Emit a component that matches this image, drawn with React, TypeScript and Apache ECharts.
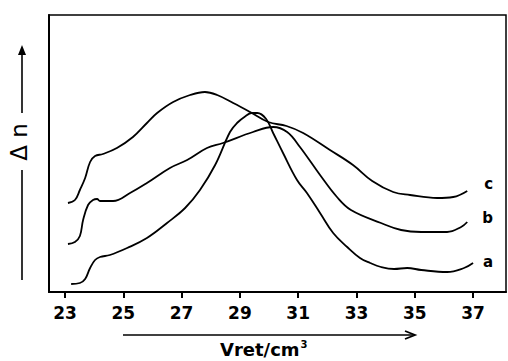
import React, { useEffect, useRef } from 'react';
import * as echarts from 'echarts';

const tickValues = [23, 25, 27, 29, 31, 33, 35, 37];
const seriesNames = ['a', 'b', 'c'];

const curveA: [number, number][] = [
  [23.21, 0.8], [23.51, 0.9], [23.69, 1.3], [23.86, 2.4], [24.03, 3.2], [24.2, 3.5],
  [24.54, 3.7], [25.13, 4.4], [25.81, 5.4], [26.5, 6.9], [27.12, 8.4], [27.63, 10.2],
  [28.15, 12.7], [28.66, 16.0], [28.9, 16.9], [29.2, 17.6], [29.4, 17.9], [29.6, 17.9],
  [29.9, 17.3], [30.14, 15.9], [30.48, 13.9], [30.96, 11.2], [31.3, 9.9], [31.75, 7.9],
  [32.2, 5.9], [32.68, 4.5], [33.12, 3.4], [33.47, 2.9], [33.84, 2.5], [34.29, 2.3],
  [34.74, 2.4], [35.22, 2.2], [36.11, 2.0], [36.69, 2.4], [37.0, 2.9],
];

const curveB: [number, number][] = [
  [23.1, 4.8], [23.34, 5.0], [23.51, 5.6], [23.62, 7.2], [23.79, 8.7], [23.96, 9.2],
  [24.1, 9.3], [24.2, 9.1], [24.65, 9.1], [25.23, 9.9], [25.81, 10.9], [26.6, 12.4],
  [27.19, 13.2], [27.87, 14.4], [28.42, 14.9], [29.45, 16.0], [30.14, 16.5], [30.62, 16.0],
  [31.06, 14.5], [31.75, 11.7], [32.33, 9.5], [32.81, 8.2], [33.84, 6.9], [34.53, 6.2],
  [35.22, 6.0], [36.11, 6.0], [36.59, 6.5], [36.8, 7.0],
];

const curveC: [number, number][] = [
  [23.1, 8.9], [23.34, 9.2], [23.51, 10.2], [23.69, 11.4], [23.86, 13.0], [24.03, 13.6],
  [24.3, 13.8], [24.78, 14.4], [25.33, 15.5], [25.81, 16.9], [26.16, 17.9], [26.71, 19.0],
  [27.29, 19.7], [27.8, 20.0], [28.22, 19.7], [28.77, 18.9], [29.35, 18.0], [29.97, 17.0],
  [30.6, 16.6], [31.17, 15.9], [32.09, 14.2], [32.88, 12.7], [33.54, 11.1], [34.26, 10.0],
  [34.84, 9.7], [35.77, 9.4], [36.32, 9.5], [36.8, 10.1],
];

const FONT = 'DejaVu Sans';

export default function App() {
  const ref = useRef<HTMLDivElement>(null);
  useEffect(() => {
    const chart = echarts.init(ref.current!, null, { renderer: 'svg' });
    const curves = [curveA, curveB, curveC];
    const offsets: [number, number][] = [[2, -1], [7, -4], [9, -7]];
    chart.setOption({
      animation: false,
      backgroundColor: '#fff',
      grid: {
        left: 49, right: 2, top: 15, bottom: 69,
        show: true, borderColor: '#000', borderWidth: 1.5, backgroundColor: 'transparent',
      },
      xAxis: {
        type: 'value',
        min: 22.45,
        max: 38.13,
        axisLine: { show: true, lineStyle: { color: '#000', width: 2 } },
        axisTick: { show: true, customValues: tickValues, length: 6, lineStyle: { color: '#000', width: 2 } },
        axisLabel: {
          show: true, customValues: tickValues, margin: 12,
          color: '#000', fontFamily: FONT, fontWeight: 'bold', fontSize: 17,
        },
        splitLine: { show: false },
      },
      yAxis: {
        type: 'value',
        min: 0,
        max: 27.7,
        axisLine: { show: true, lineStyle: { color: '#000', width: 2 } },
        axisTick: { show: false },
        axisLabel: { show: false },
        splitLine: { show: false },
      },
      series: curves.map((d, i) => ({
        name: seriesNames[i],
        type: 'line',
        data: d,
        smooth: 0.4,
        symbol: 'none',
        lineStyle: { color: '#000', width: 1.8 },
        endLabel: {
          show: true,
          formatter: '{a}',
          offset: offsets[i],
          color: '#000',
          fontFamily: FONT,
          fontWeight: 'bold',
          fontSize: 15,
        },
      })),
      graphic: [
        { type: 'line', shape: { x1: 22, y1: 280, x2: 22, y2: 170 }, style: { stroke: '#000', lineWidth: 1.6 } },
        { type: 'line', shape: { x1: 22, y1: 113, x2: 22, y2: 50 }, style: { stroke: '#000', lineWidth: 1.6 } },
        { type: 'polygon', shape: { points: [[22, 45], [18, 55], [26, 55]] }, style: { fill: '#000' } },
        {
          type: 'text', x: 19, y: 142, rotation: Math.PI / 2,
          style: { text: 'Δ n', fontFamily: FONT, fontSize: 23, fill: '#000', align: 'center', verticalAlign: 'middle' },
        },
        { type: 'line', shape: { x1: 123, y1: 335, x2: 413, y2: 335 }, style: { stroke: '#000', lineWidth: 1.6 } },
        { type: 'polyline', shape: { points: [[405, 331], [415, 335], [405, 339]] }, style: { stroke: '#000', lineWidth: 1.8, fill: 'none' } },
        {
          type: 'text', x: 220, y: 349,
          style: {
            text: '{m|Vret/cm}{s|3}',
            align: 'left', verticalAlign: 'middle',
            rich: {
              m: { fontFamily: FONT, fontWeight: 'bold', fontSize: 18, fill: '#000', color: '#000' },
              s: { fontFamily: FONT, fontWeight: 'bold', fontSize: 10, fill: '#000', color: '#000', verticalAlign: 'top', padding: [0, 0, 10, 1] },
            },
          },
        },
      ],
    });
    return () => chart.dispose();
  }, []);
  return <div ref={ref} style={{ width: 508, height: 361, position: 'absolute', left: 0, top: 0 }} />;
}
